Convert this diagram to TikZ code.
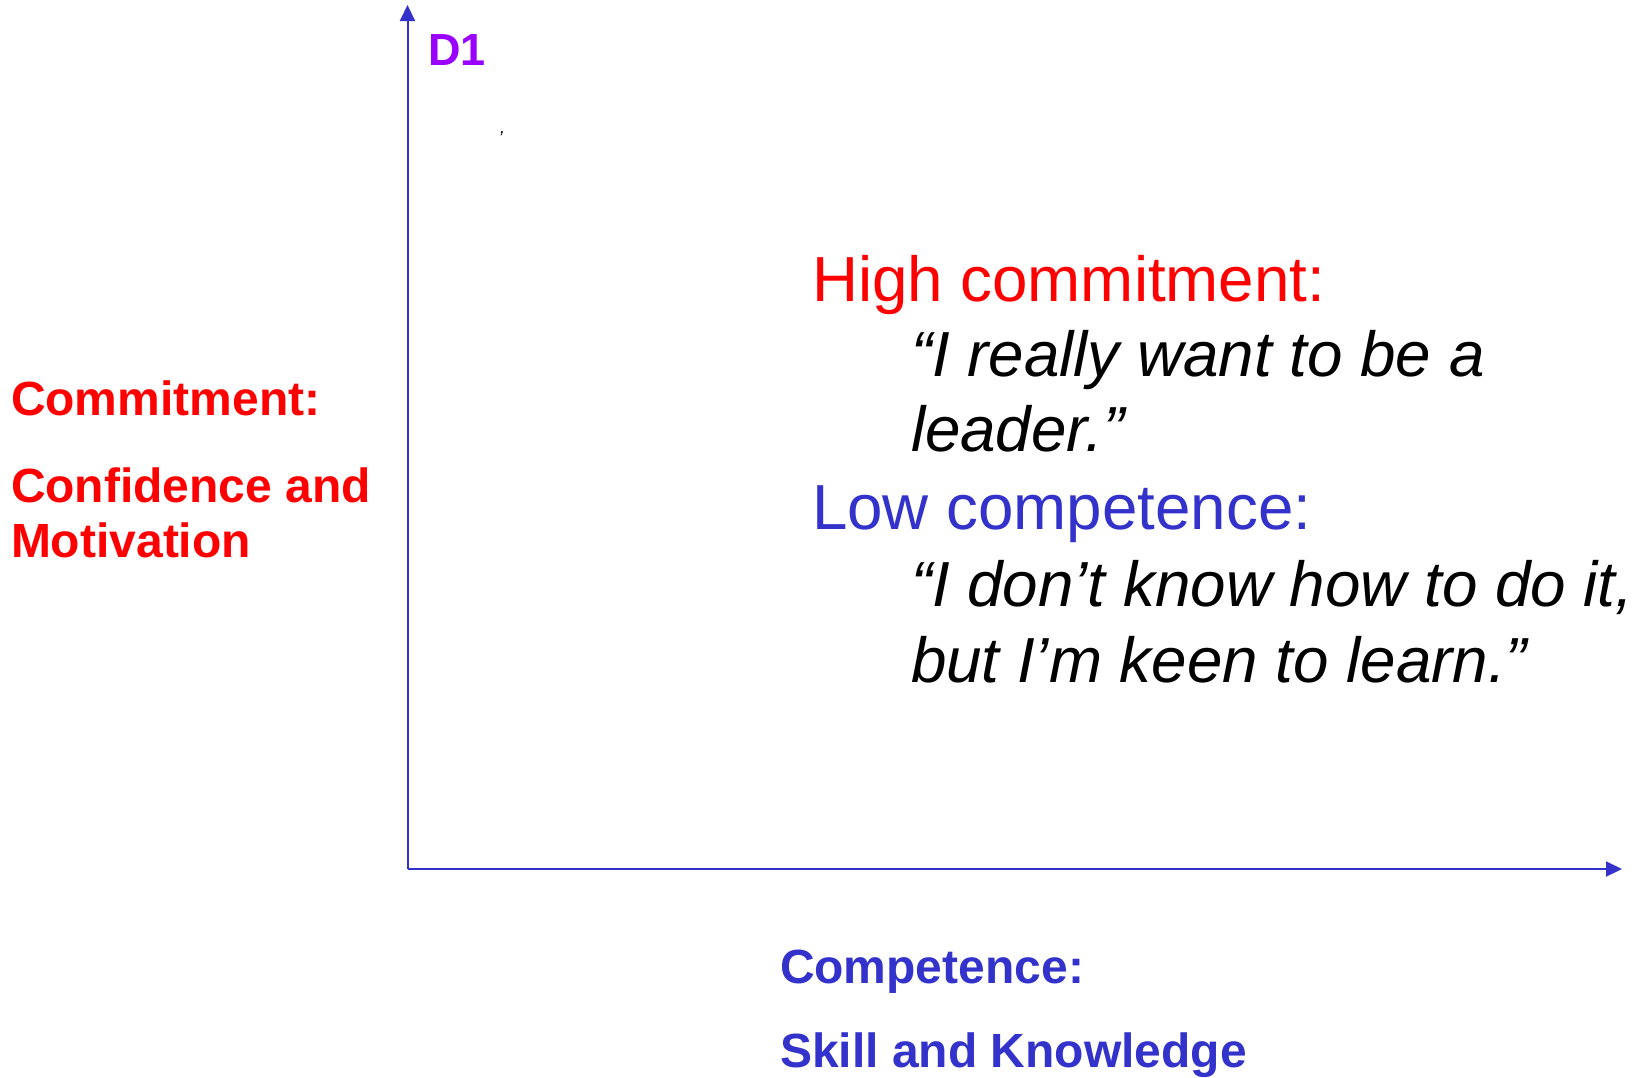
\documentclass[tikz,border=0pt]{standalone}
\usepackage{fontspec}
\setmainfont{Liberation Sans}
\usetikzlibrary{arrows.meta}
\definecolor{axisblue}{HTML}{3333CC}
\definecolor{hotred}{HTML}{FF0000}
\definecolor{violet}{HTML}{9900FF}
\begin{document}
\begin{tikzpicture}[x=1pt,y=-1pt,
  txt/.style={anchor=base west,inner sep=0pt,outer sep=0pt},
  axislabel/.style={txt,font=\fontsize{48}{57}\selectfont\bfseries},
  bigline/.style={txt,font=\fontsize{63.7}{76}\selectfont},
  quote/.style={bigline,font=\fontsize{63.7}{76}\selectfont\itshape,text=black},
  axis/.style={draw=axisblue,line width=2pt,-{Triangle[length=16pt,width=15pt]}}]
\useasboundingbox (0,0) rectangle (1639,1077);

% axes
\coordinate (O) at (407.5,869);
\coordinate (ytip) at (407.5,5);
\coordinate (xtip) at (1622,869);
\draw[axis] (O) -- (ytip);
\draw[axis] (O) -- (xtip);

% quadrant label
\node[txt,text=violet,font=\fontsize{45}{54}\selectfont\bfseries] (d1) at (428.5,65) {D1};
\node[txt,font=\fontsize{18}{20}\selectfont\itshape] (tick) at (500,133) {,};

% vertical axis label
\node[axislabel,text=hotred] (commit) at (11,415) {Commitment:};
\node[axislabel,text=hotred] (conf) at (11,502) {Confidence and};
\node[axislabel,text=hotred] (motiv) at (11,557) {Motivation};

% horizontal axis label
\node[axislabel,text=axisblue] (compet) at (780,983) {Competence:};
\node[axislabel,text=axisblue] (skill) at (780,1067) {Skill and Knowledge};

% description of the stage
\node[bigline,text=hotred] (high) at (812,301) {High commitment:};
\node[quote] (q1) at (911,376) {“I really want to be a};
\node[quote] (q2) at (911,451.5) {leader.”};
\node[bigline,text=axisblue] (low) at (812,529) {Low competence:};
\node[quote] (q3) at (911,606) {“I don’t know how to do it,};
\node[quote] (q4) at (911,682.5) {but I’m keen to learn.”};
\end{tikzpicture}
\end{document}
